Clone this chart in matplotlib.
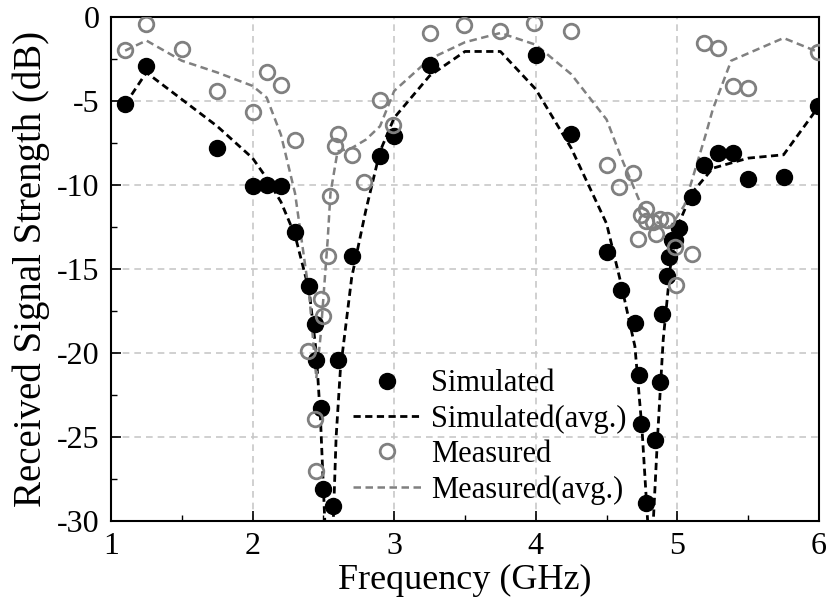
import numpy as np
import matplotlib
matplotlib.use("Agg")
import matplotlib.pyplot as plt
from matplotlib.ticker import MultipleLocator

# Simulated points (GHz, dB)
sim_f = [1.1, 1.25, 1.75, 2.0, 2.1, 2.2, 2.3, 2.4, 2.44, 2.45, 2.48, 2.5, 2.57,
         2.6, 2.7, 2.9, 3.0, 3.25, 4.0, 4.25, 4.5, 4.6, 4.7, 4.73, 4.74, 4.78,
         4.84, 4.88, 4.89, 4.93, 4.94, 4.96, 4.98, 5.01, 5.1, 5.19, 5.29, 5.39,
         5.5, 5.75, 5.99]
sim_db = [-5.2, -2.9, -7.8, -10.05, -10.0, -10.05, -12.8, -16.0, -18.3, -20.4, -23.3, -28.1, -29.1,
          -20.4, -14.2, -8.3, -7.1, -2.86, -2.26, -6.96, -14.0, -16.25, -18.2, -21.3, -24.2, -28.9,
          -25.2, -21.7, -17.7, -15.4, -14.3, -13.3, -13.3, -12.56, -10.7, -8.8, -8.1, -8.1,
          -9.65, -9.5, -5.3]

# Simulated average curve
sim_avg_f = [1.1, 1.25, 1.5, 1.75, 2.0, 2.1, 2.2, 2.3, 2.4, 2.45, 2.48, 2.51, 2.52,
             2.56, 2.57, 2.59, 2.62, 2.7, 2.8, 2.9, 3.0, 3.25, 3.5, 3.75, 4.0, 4.25,
             4.5, 4.6, 4.7, 4.75, 4.79, 4.8, 4.82, 4.83, 4.86, 4.9, 4.95, 5.0, 5.1,
             5.25, 5.5, 5.75, 6.0]
sim_avg_db = [-5.2, -3.3, -4.9, -6.5, -8.4, -9.6, -11.0, -13.0, -16.3, -20.0, -24.0, -30.0, -31.0,
              -31.0, -30.0, -25.0, -21.0, -15.5, -11.5, -8.0, -6.0, -3.5, -2.05, -2.05, -4.3, -7.8,
              -12.3, -15.8, -19.6, -24.5, -30.0, -31.0, -31.0, -30.0, -25.0, -19.2, -14.9, -12.5, -10.5,
              -9.0, -8.4, -8.2, -5.3]

# Measured points
mea_f = [1.1, 1.25, 1.5, 1.75, 2.0, 2.1, 2.2, 2.3, 2.39, 2.44, 2.45, 2.48, 2.5, 2.53,
         2.55, 2.58, 2.6, 2.7, 2.79, 2.9, 2.99, 3.25, 3.49, 3.75, 3.99, 4.25, 4.5,
         4.59, 4.69, 4.72, 4.74, 4.78, 4.78, 4.83, 4.85, 4.88, 4.93, 4.98, 4.99,
         5.1, 5.19, 5.29, 5.39, 5.5, 5.99]
mea_db = [-1.95, -0.42, -1.9, -4.4, -5.65, -3.27, -4.05, -7.3, -19.9, -23.9, -27.0, -16.8, -17.8, -14.2,
          -10.65, -7.7, -6.96, -8.2, -9.8, -4.94, -6.4, -0.97, -0.48, -0.82, -0.34, -0.82, -8.8,
          -10.1, -9.3, -13.2, -11.8, -11.4, -12.15, -12.2, -12.9, -12.0, -12.1, -13.7, -15.95,
          -14.1, -1.55, -1.85, -4.1, -4.2, -2.1]

# Measured average curve
mea_avg_f = [1.1, 1.25, 1.5, 1.75, 2.0, 2.1, 2.2, 2.3, 2.4, 2.45, 2.48, 2.53, 2.55,
             2.6, 2.7, 2.8, 2.9, 3.0, 3.25, 3.5, 3.75, 4.0, 4.25, 4.5, 4.6, 4.75,
             4.85, 4.95, 5.05, 5.1, 5.2, 5.25, 5.38, 5.75, 6.0]
mea_avg_db = [-2.0, -1.4, -2.6, -3.3, -4.1, -4.8, -7.0, -10.5, -16.5, -21.5, -19.0, -13.3, -10.5,
              -8.0, -7.8, -7.3, -6.5, -4.4, -2.5, -1.5, -0.95, -1.65, -3.4, -6.1, -8.3, -11.3,
              -12.2, -12.5, -11.2, -9.8, -7.0, -5.5, -2.6, -1.25, -2.1]

plt.rcParams['font.family'] = ['Liberation Serif', 'DejaVu Serif']
plt.rcParams['axes.unicode_minus'] = False

fig = plt.figure(figsize=(8.27, 6.08), dpi=100)
ax = fig.add_axes([0.1342, 0.1431, 0.8561, 0.8289])

ax.plot(sim_f, sim_db, 'o', color='black', ms=11.5, label='Simulated', zorder=4)
ax.plot(sim_avg_f, sim_avg_db, color='black', lw=2.0, ls=(0, (2.6, 1.6)),
        label='Simulated(avg.)', zorder=3)
ax.plot(mea_f, mea_db, 'o', mfc='none', mec='#808080', mew=2.0, ms=10.5,
        label='Measured', zorder=5)
ax.plot(mea_avg_f, mea_avg_db, color='#808080', lw=1.8, ls=(0, (3.0, 1.8)),
        label='Measured(avg.)', zorder=3)

ax.set_xlim(1, 6)
ax.set_ylim(-30, 0)
ax.xaxis.set_major_locator(MultipleLocator(1))
ax.xaxis.set_minor_locator(MultipleLocator(0.5))
ax.yaxis.set_major_locator(MultipleLocator(5))
ax.yaxis.set_minor_locator(MultipleLocator(2.5))
ax.tick_params(which='major', direction='in', length=7, width=1.2, labelsize=23, pad=8)
ax.tick_params(which='minor', direction='in', length=4, width=1.0)
for s in ax.spines.values():
    s.set_linewidth(1.5)

ax.grid(True, which='major', color='#c8c8c8', ls=(0, (4, 3)), lw=1.2)
ax.set_axisbelow(True)

ax.set_xlabel('Frequency (GHz)', fontsize=26, labelpad=2)
ax.set_ylabel('Received Signal Strength (dB)', fontsize=28, labelpad=5)

ax.legend(loc='lower left', bbox_to_anchor=(0.325, 0.008), frameon=False, fontsize=22,
          handlelength=2.2, handletextpad=0.35, labelspacing=0.2, borderpad=0.2,
          borderaxespad=0.2)

fig.savefig('out.png', dpi=100)
